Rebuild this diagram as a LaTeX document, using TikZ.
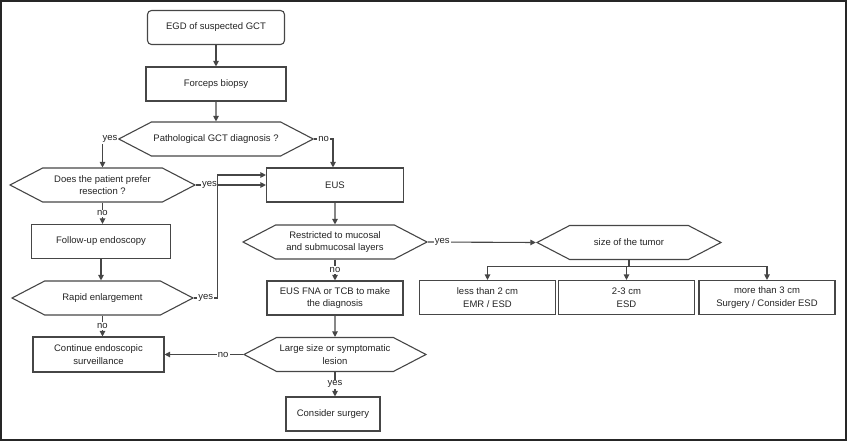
\documentclass[tikz,border=0pt]{standalone}
\usepackage{fontspec}
\setmainfont{Liberation Sans}
\definecolor{flowgray}{RGB}{70,70,70}
\definecolor{textgray}{RGB}{35,35,35}
\usetikzlibrary{shapes.symbols, arrows.meta}

\begin{document}
\begin{tikzpicture}[x=1pt, y=-1pt,
  box/.style={rectangle, draw=flowgray, line width=1.1pt, minimum height=34pt, align=center, text=textgray, font=\fontsize{9.5}{12.5}\selectfont, inner sep=2pt},
  decision/.style={box, signal, signal to=west and east, signal pointer angle=55},
  lab/.style={fill=white, inner sep=1pt, text=textgray, font=\fontsize{9.5}{11}\selectfont},
  arrow/.style={draw=flowgray, line width=1.1pt, -{Triangle[length=5.5pt, width=5.5pt]}}]
  \useasboundingbox (0,0) rectangle (847,441);
  \draw[line width=1.6pt, black!85] (1,1) rectangle (846,440);
  % left and middle column
  \node[box, rounded corners=4pt, minimum width=137pt] (egd) at (216,27.5) {EGD of suspected GCT};
  \node[box, minimum width=140pt] (biopsy) at (216,84) {Forceps biopsy};
  \node[decision, minimum width=183pt] (gct) at (216,139) {Pathological GCT diagnosis ?};
  \node[decision, minimum width=185pt] (prefer) at (102.5,185) {Does the patient prefer\\resection ?};
  \node[box, minimum width=137pt] (eus) at (335,185) {EUS};
  \node[box, minimum width=139pt] (followup) at (101,241.5) {Follow-up endoscopy};
  \node[decision, minimum width=181pt] (rapid) at (102.5,298) {Rapid enlargement};
  \node[box, minimum width=131pt, minimum height=35pt] (surveil) at (98.5,354.5) {Continue endoscopic\\surveillance};
  \node[decision, minimum width=184pt] (layers) at (335,242) {Restricted to mucosal\\and submucosal layers};
  \node[box, minimum width=136pt] (fna) at (335,298) {EUS FNA or TCB to make\\the diagnosis};
  \node[decision, minimum width=182pt] (large) at (335,354.5) {Large size or symptomatic\\lesion};
  \node[box, minimum width=94pt] (surgery) at (333,414) {Consider surgery};
  % size branch
  \node[decision, minimum width=184pt] (size) at (629,242.5) {size of the tumor};
  \foreach \x/\n/\t in {487.5/small/{less than 2 cm\\EMR / ESD}, 626.5/medium/{2-3 cm\\ESD}, 767/big/{more than 3 cm\\Surgery / Consider ESD}}
    \node[box, minimum width=136pt] (\n) at (\x,297.5) {\t};

  \draw[arrow] (egd) -- (biopsy);
  \draw[arrow] (biopsy) -- (gct);
  \draw[arrow] (gct.west) -| node[lab, pos=0.25] {yes} (prefer.north);
  \draw[arrow] (gct.east) -| node[lab, pos=0.25] {no} ([xshift=-2pt]eus.north);
  \draw[arrow] (prefer.east) -- node[lab, pos=0.19] {yes} (eus.west);
  \draw[arrow] (prefer.south) -- node[lab] {no} (prefer.south |- followup.north);
  \draw[arrow] (followup.south) -- (followup.south |- rapid.north);
  \draw[arrow] (rapid.east) -- node[lab] {yes} ++(23,0) |- ([yshift=10pt]eus.west);
  \draw[arrow] (rapid.south) -- node[lab] {no} (rapid.south |- surveil.north);
  \draw[arrow] (eus) -- (layers);
  \draw[arrow] (layers.east) -- node[lab, pos=0.13] {yes} (size.west);
  \draw[arrow] (layers.south) -- node[lab] {no} (fna.north);
  \draw[arrow] (fna) -- (large);
  \draw[arrow] (large.west) -- node[lab, pos=0.25] {no} (surveil.east);
  \draw[arrow] (large.south) -- node[lab] {yes} (large.south |- surgery.north);
  \foreach \n in {small, medium, big}
    \draw[arrow] (size.south) -- ++(0,6.5) -| (\n.north);
\end{tikzpicture}
\end{document}
